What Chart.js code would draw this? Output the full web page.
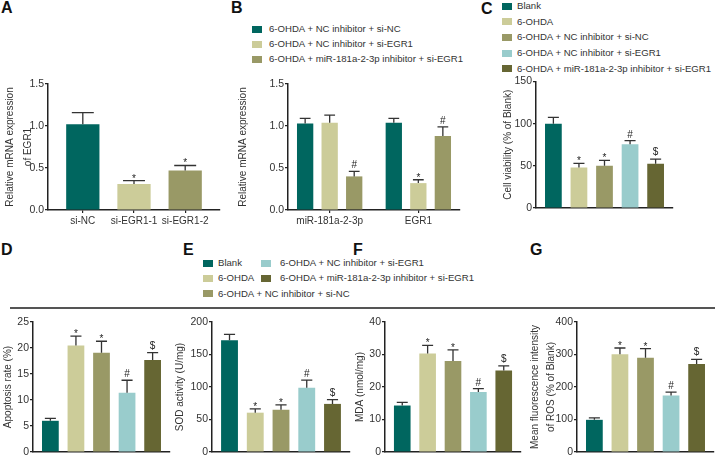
<!DOCTYPE html>
<html lang="en">
<head>
<meta charset="UTF-8">
<title>EGR1 / miR-181a-2-3p panels</title>
<script src="https://cdn.jsdelivr.net/npm/chart.js@4.4.1/dist/chart.umd.min.js"></script>
<style>
  body { margin: 0; background: #fff; }
  #fig { position: relative; width: 715px; height: 457px; overflow: hidden; background: #fff;
         font-family: 'Liberation Sans', Arial, Helvetica, sans-serif; color: #222; }
  #fig canvas { position: absolute; }
  .letter { position: absolute; font-size: 16px; font-weight: bold; line-height: 16px; color: #111; }
  .lg-box { position: absolute; width: 10px; height: 7px; }
  .lg-text { position: absolute; font-size: 9.6px; line-height: 12px; white-space: nowrap; color: #333; }
</style>
</head>
<body>
<div id="fig"></div>
<script>
// ---- data ----
const groupNames = [
  'Blank',
  '6-OHDA',
  '6-OHDA + NC inhibitor + si-NC',
  '6-OHDA + NC inhibitor + si-EGR1',
  '6-OHDA + miR-181a-2-3p inhibitor + si-EGR1',
];
const groupColors = ['#00665f', '#cccc99', '#999966', '#99cccc', '#666633'];
const groupMarks = ['', '*', '*', '#', '$'];

// A: EGR1 knockdown
const aCategories = ['si-NC', 'si-EGR1-1', 'si-EGR1-2'];
const aMean = [1.02, 0.31, 0.47];
const aErr = [0.14, 0.04, 0.06];
const aMarks = ['', '*', '*'];

// B: miR-181a-2-3p and EGR1 expression
const bCategories = ['miR-181a-2-3p', 'EGR1'];
const bNcSiNc = [1.03, 1.04];
const bNcSiNcErr = [0.06, 0.05];
const bNcSiEgr1 = [1.04, 0.32];
const bNcSiEgr1Err = [0.09, 0.04];
const bInhSiEgr1 = [0.40, 0.88];
const bInhSiEgr1Err = [0.06, 0.11];
const bMarks = [['', ''], ['', '*'], ['#', '#']];

// C-G: five groups each
const cViability = [100, 48, 50, 75.5, 52.5];
const cErr = [7.5, 5, 6.5, 4.5, 5.5];
const dApoptosis = [6.0, 20.5, 19.1, 11.4, 17.7];
const dErr = [0.45, 1.8, 2.2, 2.4, 1.4];
const eSod = [172, 60.5, 65, 99, 74];
const eErr = [9, 6, 7.5, 11.5, 6.5];
const fMda = [14.3, 30.3, 28, 18.5, 25.1];
const fErr = [1, 2.5, 3.4, 1, 1.4];
const gRos = [99, 301, 290, 174, 271];
const gErr = [6, 19, 28, 10, 14];

// ---- drawing ----
const FONT = "'Liberation Sans', Arial, Helvetica, sans-serif";
const INK = '#222';
const fig = document.getElementById('fig');

/**
 * Draws upper error bars and significance marks above each bar
 */
const errorBars = {
  id: 'errorBars',
  afterDatasetsDraw(chart) {
    const { ctx } = chart;
    const yScale = chart.scales.y;
    chart.data.datasets.forEach((ds, di) => {
      chart.getDatasetMeta(di).data.forEach((bar, i) => {
        const top = yScale.getPixelForValue(ds.data[i].y + ds.errors[i]);
        const half = bar.width * 0.33;
        ctx.save();
        ctx.strokeStyle = '#333';
        ctx.lineWidth = 1.3;
        ctx.beginPath();
        ctx.moveTo(bar.x, bar.y);
        ctx.lineTo(bar.x, top);
        ctx.moveTo(bar.x - half, top);
        ctx.lineTo(bar.x + half, top);
        ctx.stroke();
        const mark = ds.marks[i];
        if (mark) {
          ctx.font = `10px ${FONT}`;
          ctx.fillStyle = INK;
          ctx.textAlign = 'center';
          ctx.textBaseline = 'alphabetic';
          const m = ctx.measureText(mark);
          ctx.fillText(mark, bar.x, top - 3 - m.actualBoundingBoxDescent);
        }
        ctx.restore();
      });
    });
  },
};

function addDiv(cls, text, left, top, extra = '') {
  const el = document.createElement('div');
  el.className = cls;
  el.textContent = text;
  el.style.cssText = `left:${left}px;top:${top}px;${extra}`;
  fig.appendChild(el);
  return el;
}

/**
 * Legend rows: coloured box + label, slots give box x, text x and row centre y
 */
function addLegend(names, colors, slots) {
  slots.forEach((s, i) => {
    addDiv('lg-box', '', s.x, s.y - 3.5, `background:${colors[i]}`);
    addDiv('lg-text', names[i], s.tx, s.y - 6);
  });
}

/**
 * Creates one bar panel
 * @param {Object} box - canvas rect and axis sizes
 * @param {Object} cfg - categories, series and y axis settings
 */
function barPanel(box, cfg) {
  const canvas = document.createElement('canvas');
  canvas.width = box.w;
  canvas.height = box.h;
  canvas.style.left = box.x + 'px';
  canvas.style.top = box.y + 'px';
  fig.appendChild(canvas);

  const n = cfg.categories.length;
  const tickFont = { family: FONT, size: 10.5 };

  return new Chart(canvas, {
    type: 'bar',
    data: {
      datasets: cfg.series.map((s) => ({
        label: s.name,
        data: s.values.map((v, i) => ({ x: i, y: v })),
        errors: s.errors,
        marks: s.marks,
        backgroundColor: s.color,
        borderWidth: 0,
        categoryPercentage: cfg.catPct,
        barPercentage: cfg.barPct,
      })),
    },
    options: {
      responsive: false,
      animation: false,
      devicePixelRatio: 1,
      layout: { padding: { top: box.padTop, right: box.padRight, bottom: 0, left: 0 } },
      plugins: { legend: { display: false }, tooltip: { enabled: false } },
      scales: {
        x: {
          type: 'linear',
          min: -cfg.margin,
          max: n - 1 + cfg.margin,
          offset: false,
          afterBuildTicks: (s) => { s.ticks = cfg.categories.map((c, i) => ({ value: i })); },
          afterFit: (s) => { s.height = box.xAxisH; },
          ticks: {
            display: cfg.showLabels, autoSkip: false, maxRotation: 0, padding: 2,
            color: '#333', font: { family: FONT, size: 10 },
            callback: (v) => cfg.categories[v],
          },
          grid: {
            display: cfg.showLabels, offset: false, drawOnChartArea: false,
            tickLength: 3, color: INK, lineWidth: 1.2,
          },
          border: { display: true, color: INK, width: 1.5 },
        },
        y: {
          min: 0,
          max: cfg.yMax,
          afterFit: (s) => { s.width = box.yAxisW; },
          ticks: {
            stepSize: cfg.yStep, padding: 1, color: '#333', font: tickFont,
            callback: (v) => (cfg.yDecimals ? v.toFixed(cfg.yDecimals) : v),
          },
          grid: { drawOnChartArea: false, tickLength: 3, color: INK, lineWidth: 1.2 },
          border: { display: true, color: INK, width: 1.5 },
          title: {
            display: true, text: cfg.yTitle, color: '#333',
            font: { family: FONT, size: 10, lineHeight: cfg.titleLH + 'px' },
            padding: { top: cfg.titlePad, bottom: 0 },
          },
        },
      },
    },
    plugins: [errorBars],
  });
}

function fiveGroupSeries(values, errors) {
  return [{ name: 'groups', values, errors, marks: groupMarks, color: groupColors }];
}

// panel letters
addDiv('letter', 'A', 1, 0);
addDiv('letter', 'B', 231, 0);
addDiv('letter', 'C', 481, 1);
addDiv('letter', 'D', 1, 241.5);
addDiv('letter', 'E', 183, 241.5);
addDiv('letter', 'F', 353, 241.5);
addDiv('letter', 'G', 530, 241.5);

// divider between rows
addDiv('rule', '', 10, 307, 'position:absolute;width:705px;height:2px;background:#555');

// legends
addLegend(groupNames.slice(2), groupColors.slice(0, 3), [
  { x: 252, tx: 269, y: 29 }, { x: 252, tx: 269, y: 44 }, { x: 252, tx: 269, y: 59 },
]);
addLegend(groupNames, groupColors, [0, 1, 2, 3, 4].map((r) => ({ x: 502, tx: 517, y: 6 + r * 15.7 })));
addLegend(groupNames, groupColors, [
  { x: 203, tx: 218, y: 263.3 }, { x: 203, tx: 218, y: 278.3 }, { x: 203, tx: 218, y: 293.5 },
  { x: 261, tx: 280, y: 263.3 }, { x: 261, tx: 280, y: 278.3 },
]);

// A
barPanel({ x: 0, y: 74, w: 226, h: 158, yAxisW: 48, xAxisH: 22, padTop: 10, padRight: 6 }, {
  categories: aCategories,
  series: [{ name: 'EGR1', values: aMean, errors: aErr, marks: aMarks, color: groupColors.slice(0, 3) }],
  yMax: 1.5, yStep: 0.5, yDecimals: 1,
  yTitle: ['Relative mRNA expression', 'of EGR1'], titleLH: 18, titlePad: 1,
  margin: 0.68, catPct: 1, barPct: 0.65, showLabels: true,
});

// B
barPanel({ x: 232, y: 74, w: 236, h: 158, yAxisW: 56, xAxisH: 22, padTop: 10, padRight: 8 }, {
  categories: bCategories,
  series: [
    { name: groupNames[2], values: bNcSiNc, errors: bNcSiNcErr, marks: bMarks[0], color: groupColors[0] },
    { name: groupNames[3], values: bNcSiEgr1, errors: bNcSiEgr1Err, marks: bMarks[1], color: groupColors[1] },
    { name: groupNames[4], values: bInhSiEgr1, errors: bInhSiEgr1Err, marks: bMarks[2], color: groupColors[2] },
  ],
  yMax: 1.5, yStep: 0.5, yDecimals: 1,
  yTitle: 'Relative mRNA expression', titleLH: 16, titlePad: 3,
  margin: 0.47, catPct: 0.83, barPct: 0.665, showLabels: true,
});

// C
barPanel({ x: 496, y: 71, w: 184, h: 147, yAxisW: 40, xAxisH: 10, padTop: 10.5, padRight: 7 }, {
  categories: groupNames, series: fiveGroupSeries(cViability, cErr),
  yMax: 150, yStep: 50, yTitle: 'Cell viability (% of Blank)', titleLH: 16, titlePad: 4,
  margin: 0.68, catPct: 1, barPct: 0.655, showLabels: false,
});

// D
barPanel({ x: 0, y: 312, w: 176, h: 150, yAxisW: 33, xAxisH: 10, padTop: 10, padRight: 6 }, {
  categories: groupNames, series: fiveGroupSeries(dApoptosis, dErr),
  yMax: 25, yStep: 5, yTitle: 'Apoptosis rate (%)', titleLH: 16, titlePad: 0,
  margin: 0.68, catPct: 1, barPct: 0.655, showLabels: false,
});

// E
barPanel({ x: 172, y: 312, w: 184, h: 150, yAxisW: 40, xAxisH: 10, padTop: 10, padRight: 6 }, {
  categories: groupNames, series: fiveGroupSeries(eSod, eErr),
  yMax: 200, yStep: 50, yTitle: 'SOD activity (U/mg)', titleLH: 16, titlePad: 0,
  margin: 0.68, catPct: 1, barPct: 0.655, showLabels: false,
});

// F
barPanel({ x: 350, y: 312, w: 177, h: 150, yAxisW: 35, xAxisH: 10, padTop: 10, padRight: 6 }, {
  categories: groupNames, series: fiveGroupSeries(fMda, fErr),
  yMax: 40, yStep: 10, yTitle: 'MDA (nmol/mg)', titleLH: 16, titlePad: 2,
  margin: 0.68, catPct: 1, barPct: 0.655, showLabels: false,
});

// G
barPanel({ x: 524, y: 312, w: 191, h: 150, yAxisW: 53, xAxisH: 10, padTop: 10, padRight: 1 }, {
  categories: groupNames, series: fiveGroupSeries(gRos, gErr),
  yMax: 400, yStep: 100, yTitle: ['Mean fluorescence intensity', 'of ROS (% of Blank)'], titleLH: 16, titlePad: 3,
  margin: 0.68, catPct: 1, barPct: 0.655, showLabels: false,
});
</script>
</body>
</html>
